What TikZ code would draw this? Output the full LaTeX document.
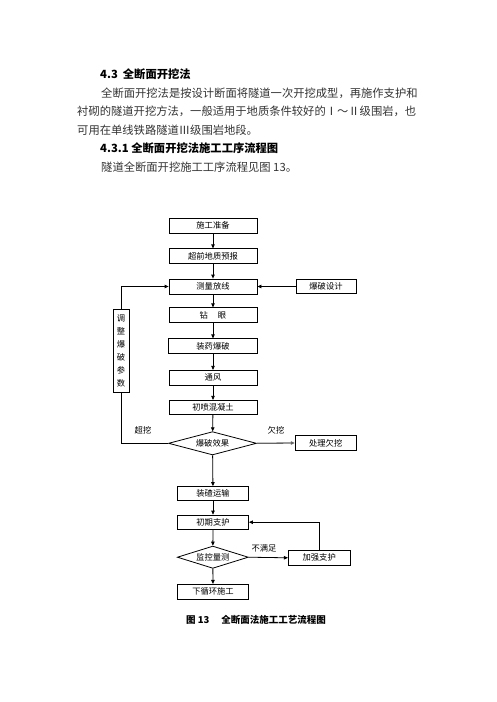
\documentclass[tikz,border=0pt]{standalone}
\usepackage{fontspec}
\newfontfamily\cjk{Noto Sans CJK SC}
\usetikzlibrary{shapes.geometric,arrows.meta}
\begin{document}
\begin{tikzpicture}[x=1pt,y=-1pt,
  every node/.style={font=\cjk},
  box/.style={draw,line width=0.8pt,inner sep=0pt,minimum width=88pt,minimum height=15pt,font=\cjk\fontsize{8.3}{10}\selectfont},
  dia/.style={draw,diamond,line width=0.8pt,inner sep=0pt,shape aspect=3.8,font=\cjk\fontsize{8.3}{10}\selectfont},
  lbl/.style={font=\cjk\fontsize{8.3}{10}\selectfont,inner sep=0pt},
  para/.style={font=\cjk\fontsize{11.3}{13}\selectfont,text=black!80,inner sep=0pt,anchor=west},
  head/.style={font=\cjk\bfseries\fontsize{11.3}{13}\selectfont,text=black,inner sep=0pt,anchor=west},
  arr/.style={-{Triangle[length=4pt,width=3.5pt]},line width=0.8pt},
  ln/.style={line width=0.8pt}
]
\useasboundingbox (0,0) rectangle (496,702);
% text
\node[head] (t1) at (100,74) {4.3\hspace{5pt}全断面开挖法};
\node[para] (p1) at (101,93.3) {全断面开挖法是按设计断面将隧道一次开挖成型，再施作支护和};
\node[para] (p2) at (77,111.7) {衬砌的隧道开挖方法，一般适用于地质条件较好的Ⅰ～Ⅱ级围岩，也};
\node[para] (p3) at (77,129.7) {可用在单线铁路隧道Ⅲ级围岩地段。};
\node[head] (t2) at (100,148.3) {4.3.1 全断面开挖法施工工序流程图};
\node[para] (p4) at (101,166.7) {隧道全断面开挖施工工序流程见图 13。};
% flowchart
\node[box] (n1) at (213,225.8) {施工准备};
\node[box] (n2) at (213,256.3) {超前地质预报};
\node[box] (n3) at (213,286.5) {测量放线};
\node[box,minimum width=60pt,minimum height=14pt] (sj) at (326,286.5) {爆破设计};
\node[box] (n4) at (213,315.3) {钻\hspace{10pt}眼};
\node[box,minimum width=89pt] (n5) at (213,346.3) {装药爆破};
\node[box] (n6) at (213,377.8) {通风};
\node[box,minimum height=14pt] (n7) at (213,407.3) {初喷混凝土};
\node[dia,minimum width=88pt,minimum height=23.3pt] (d1) at (212.5,443.3) {爆破效果};
\node[box,minimum width=61pt,minimum height=14.6pt] (cl) at (325.7,443) {处理欠挖};
\node[box,minimum width=16pt,minimum height=83pt,align=center,font=\cjk\fontsize{8.3}{13}\selectfont] (tz) at (121,350.5) {调\\整\\爆\\破\\参\\数};
\node[box,minimum width=71pt,minimum height=13.5pt] (n8) at (213,493.3) {装碴运输};
\node[box,minimum width=71pt,minimum height=14.3pt] (n9) at (213,522.2) {初期支护};
\node[dia,minimum width=71pt,minimum height=22.3pt] (d2) at (212.8,557.2) {监控量测};
\node[box,minimum width=61.7pt,minimum height=15pt] (jq) at (319.2,557.8) {加强支护};
\node[box,minimum width=71.4pt,minimum height=14.7pt] (n10) at (213,591.7) {下循环施工};
\node[font=\cjk\bfseries\fontsize{9.5}{11}\selectfont,inner sep=0pt] (cap) at (256,620) {图 13\hspace{12pt}全断面法施工工艺流程图};
% labels
\node[lbl] (l1) at (143,430.5) {超挖};
\node[lbl] (l2) at (276,430.5) {欠挖};
\node[lbl] (l3) at (264,548.7) {不满足};
% connectors
\draw[arr] (n1) -- (n2);
\draw[arr] (n2) -- (n3);
\draw[arr] (sj) -- (n3);
\draw[arr] (n3) -- (n4);
\draw[arr] (n4) -- (n5);
\draw[arr] (n5) -- (n6);
\draw[arr] (n6) -- (n7);
\draw[arr] (n7) -- (d1);
\draw[arr] (d1) -- (n8);
\draw[arr] (n8) -- (n9);
\draw[arr] (n9) -- (d2);
\draw[arr] (d2) -- (n10);
\draw[arr,line width=1.3pt,draw=black!60] (d1.east) -- (cl.west);
\draw[arr] (tz.north) |- (n3.west);
\draw[ln] (tz.south) |- (d1.west);
\draw[arr] (d2.east) -- (jq.west);
\draw[arr] (jq.north) |- (n9.east);
\end{tikzpicture}
\end{document}
